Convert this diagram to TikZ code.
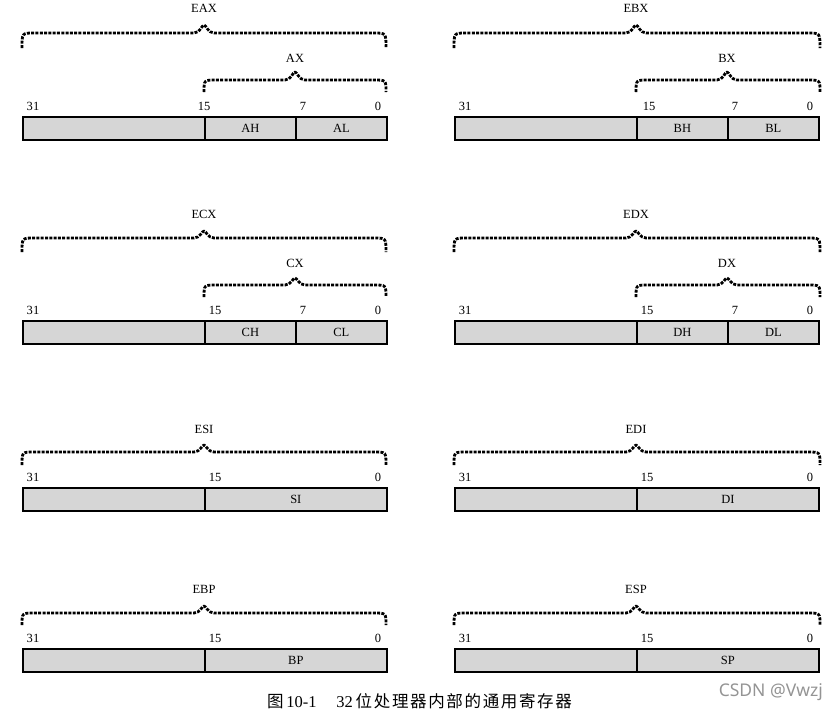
\documentclass[tikz,border=0pt]{standalone}
\usepackage{fontspec}
\setmainfont{Liberation Serif}
\newfontfamily\cjk[LetterSpace=10]{Noto Sans CJK SC}
\newfontfamily\wmfont{Noto Sans}
\tikzset{
  brc/.style={line width=2.8pt, dash pattern=on 3pt off 1.3pt, line join=round},
  cellbox/.style={draw, line width=1.7pt, fill=black!16, inner sep=0pt, anchor=north west},
  lbl/.style={font=\fontsize{12.5}{12.5}\selectfont, inner sep=0pt},
}
% #1 xa, #2 xb, #3 xm, #4 ytop, #5 yend, #6 ytip
\newcommand{\Brc}[6]{\draw[brc] (#1,#5) .. controls (#1,#4) .. ({#1+12},#4) -- ({#3-10},#4) .. controls ({#3-4},#4) and ({#3-2},{#6+2}) .. (#3,{#6+2}) .. controls ({#3+2},{#6+2}) and ({#3+4},#4) .. ({#3+10},#4) -- ({#2-12},#4) .. controls (#2,#4) .. (#2,#5);}
% three-cell register: #1 prefix, #2 x0, #3 bar top, #4 H text, #5 L text, #6 offset of "15"
\newcommand{\ThreeBar}[6]{%
  \node[cellbox, minimum width=182pt, minimum height=23pt] (#1hi) at (#2,#3) {};
  \node[cellbox, minimum width=91pt, minimum height=23pt] (#1h) at ({#2+182},#3) {};
  \node[cellbox, minimum width=91pt, minimum height=23pt] (#1l) at ({#2+273},#3) {};
  \node[lbl] (#1ht) at (#1h.center) {#4};
  \node[lbl] (#1lt) at (#1l.center) {#5};
  \node[lbl] (#1n31) at ({#2+11},{#3-10}) {31};
  \node[lbl] (#1n15) at ({#2+182+#6},{#3-10}) {15};
  \node[lbl] (#1n7) at ({#2+281},{#3-10}) {7};
  \node[lbl] (#1n0) at ({#2+356},{#3-10}) {0};
}
\newcommand{\TwoBar}[4]{%
  \node[cellbox, minimum width=182pt, minimum height=23pt] (#1hi) at (#2,#3) {};
  \node[cellbox, minimum width=182pt, minimum height=23pt] (#1lo) at ({#2+182},#3) {};
  \node[lbl] (#1t) at (#1lo.center) {#4};
  \node[lbl] (#1n31) at ({#2+11},{#3-10}) {31};
  \node[lbl] (#1n15) at ({#2+193},{#3-10}) {15};
  \node[lbl] (#1n0) at ({#2+356},{#3-10}) {0};
}
\begin{document}
\begin{tikzpicture}[x=1pt,y=-1pt]
\useasboundingbox (0,0) rectangle (840,713);
% ---- row 1
\ThreeBar{a}{22}{116}{AH}{AL}{0}
\Brc{22}{386}{204}{33}{48}{23}
\node[lbl] (eax) at (204,8) {EAX};
\Brc{204}{386}{295}{80}{92}{70}
\node[lbl] (ax) at (295,58) {AX};
\ThreeBar{b}{454}{116}{BH}{BL}{13}
\Brc{454}{820}{636}{33}{48}{23}
\node[lbl] (ebx) at (636,8) {EBX};
\Brc{636}{820}{727}{80}{92}{70}
\node[lbl] (bx) at (727,58) {BX};
% ---- row 2
\ThreeBar{c}{22}{320}{CH}{CL}{11}
\Brc{22}{386}{204}{238}{252}{229}
\node[lbl] (ecx) at (204,214) {ECX};
\Brc{204}{386}{295}{285}{297}{276}
\node[lbl] (cx) at (295,263) {CX};
\ThreeBar{d}{454}{320}{DH}{DL}{11}
\Brc{454}{820}{636}{238}{252}{229}
\node[lbl] (edx) at (636,214) {EDX};
\Brc{636}{820}{727}{285}{297}{276}
\node[lbl] (dx) at (727,263) {DX};
% ---- row 3
\TwoBar{si}{22}{487}{SI}
\Brc{22}{386}{204}{452}{465}{443}
\node[lbl] (esi) at (204,429) {ESI};
\TwoBar{di}{454}{487}{DI}
\Brc{454}{820}{636}{452}{465}{443}
\node[lbl] (edi) at (636,429) {EDI};
% ---- row 4
\TwoBar{bp}{22}{648}{BP}
\Brc{22}{386}{204}{613}{625}{604}
\node[lbl] (ebp) at (204,589) {EBP};
\TwoBar{sp}{454}{648}{SP}
\Brc{454}{820}{636}{613}{625}{604}
\node[lbl] (esp) at (636,589) {ESP};
% ---- caption
\node[anchor=west, inner sep=0pt, font=\fontsize{16.5}{17}\selectfont] (cap) at (267,701) {{\cjk 图}\,10-1\hspace{1.2em}32\,{\cjk 位处理器内部的通用寄存器}};
\node[anchor=east, inner sep=0pt, text=black!42, font=\wmfont\fontsize{17.5}{17.5}\selectfont] (wm) at (823,692) {CSDN @Vwzj};
\end{tikzpicture}
\end{document}
